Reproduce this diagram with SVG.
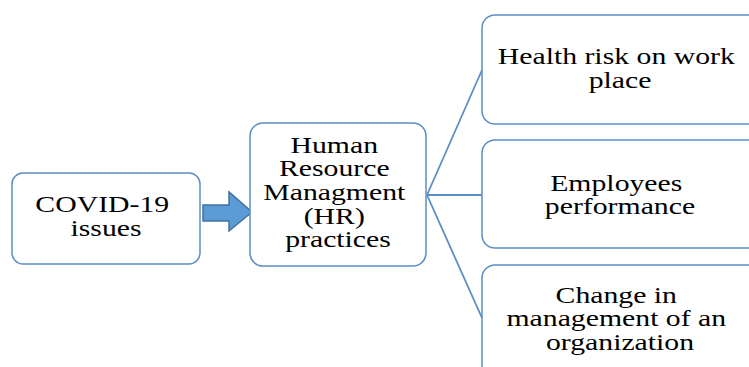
<svg xmlns="http://www.w3.org/2000/svg" width="749" height="367" viewBox="0 0 749 367">
  <style>
    .box { fill: #ffffff; stroke: #5b8ec4; stroke-width: 1.5; }
    .link { fill: none; stroke: #5b8ec4; stroke-width: 1.8; }
    .lbl { font-family: "Liberation Serif", "Times New Roman", serif; font-size: 24px; fill: #000000; text-anchor: middle; }
  </style>
  <rect width="749" height="367" fill="#ffffff"/>

  <g id="connectors">
    <line class="link" x1="427" y1="195" x2="482" y2="70"/>
    <line class="link" x1="427" y1="195" x2="482" y2="195"/>
    <line class="link" x1="427" y1="195" x2="482" y2="318"/>
  </g>

  <g id="covid">
    <rect class="box" x="12" y="173" width="188" height="91" rx="11"/>
    <text class="lbl" transform="translate(106 0) scale(1.24 1)">
      <tspan x="0" y="212">COVID-19</tspan>
      <tspan x="0" y="236">issues</tspan>
    </text>
  </g>

  <g id="arrow">
    <polygon points="203,205 229,205 229,192 252,212 229,231 229,221 203,221" fill="#5b9bd5" stroke="#41719c" stroke-width="1.5" stroke-linejoin="miter"/>
  </g>

  <g id="hr">
    <rect class="box" x="250" y="123" width="176" height="143" rx="13"/>
    <text class="lbl" transform="translate(338 0) scale(1.24 1)">
      <tspan x="0" y="153">Human</tspan>
      <tspan x="0" y="176">Resource</tspan>
      <tspan x="0" y="200">Managment</tspan>
      <tspan x="0" y="224">(HR)</tspan>
      <tspan x="0" y="247">practices</tspan>
    </text>
  </g>

  <g id="health">
    <rect class="box" x="482" y="15" width="280" height="109" rx="13"/>
    <text class="lbl" transform="translate(620 0) scale(1.24 1)">
      <tspan x="0" y="64">Health risk on work</tspan>
      <tspan x="0" y="88">place</tspan>
    </text>
  </g>

  <g id="performance">
    <rect class="box" x="482" y="140" width="280" height="108" rx="13"/>
    <text class="lbl" transform="translate(620 0) scale(1.24 1)">
      <tspan x="0" y="191">Employees</tspan>
      <tspan x="0" y="214">performance</tspan>
    </text>
  </g>

  <g id="change">
    <rect class="box" x="482" y="265" width="280" height="120" rx="13"/>
    <text class="lbl" transform="translate(620 0) scale(1.24 1)">
      <tspan x="0" y="303">Change in</tspan>
      <tspan x="0" y="326">management of an</tspan>
      <tspan x="0" y="350">organization</tspan>
    </text>
  </g>
</svg>
